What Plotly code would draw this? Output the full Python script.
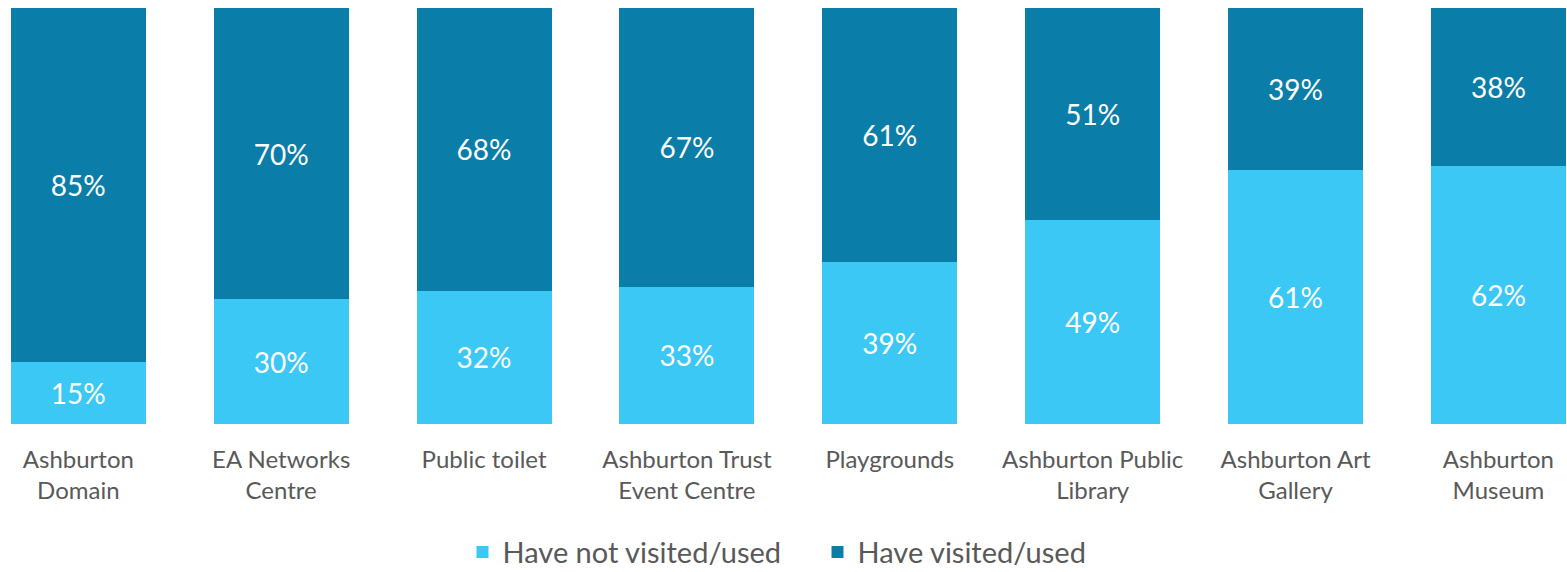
import plotly.graph_objects as go

categories = ["Ashburton<br>Domain", "EA Networks<br>Centre", "Public toilet", "Ashburton Trust<br>Event Centre",
              "Playgrounds", "Ashburton Public<br>Library", "Ashburton Art<br>Gallery", "Ashburton<br>Museum"]
not_visited = [15, 30, 32, 33, 39, 49, 61, 62]
visited = [85, 70, 68, 67, 61, 51, 39, 38]

LIGHT = "#3BC8F5"
DARK = "#0A7EA8"
FONT = "Lato, Carlito, Calibri, sans-serif"

x = list(range(len(categories)))

fig = go.Figure()
fig.add_trace(go.Bar(
    x=x, y=not_visited, name="Have not visited/used",
    marker=dict(color=LIGHT, line=dict(width=0)),
    text=[f"{v}%" for v in not_visited], textposition="inside",
    insidetextanchor="middle", textangle=0,
    textfont=dict(color="white", size=28, family=FONT),
))
fig.add_trace(go.Bar(
    x=x, y=visited, name="Have visited/used",
    marker=dict(color=DARK, line=dict(width=0)),
    text=[f"{v}%" for v in visited], textposition="inside",
    insidetextanchor="middle", textangle=0,
    textfont=dict(color="white", size=28, family=FONT),
))

fig.update_layout(
    barmode="stack",
    bargap=0.334,
    width=1567, height=572,
    margin=dict(l=0, r=0, t=8, b=148, autoexpand=False),
    plot_bgcolor="white", paper_bgcolor="white",
    font=dict(family=FONT, color="#595959"),
    uniformtext=dict(mode="show", minsize=10),
    showlegend=True,
    legend=dict(orientation="h", x=0.5217, xanchor="center", y=-0.247, yanchor="top",
                font=dict(size=29, color="#595959"), itemwidth=30, traceorder="normal",
                entrywidthmode="pixels", entrywidth=310),
    xaxis=dict(tickmode="array", tickvals=x, ticktext=categories, automargin=False,
               range=[-0.386, 7.338], showgrid=False, zeroline=False, showline=False,
               ticks="", tickfont=dict(size=24, color="#595959"), ticklabelstandoff=19),
    yaxis=dict(range=[0, 100], visible=False, automargin=False),
)

fig.write_html("out.html", config={"displayModeBar": False},
               post_script="document.body.style.margin='0px';document.body.style.overflow='hidden';")
